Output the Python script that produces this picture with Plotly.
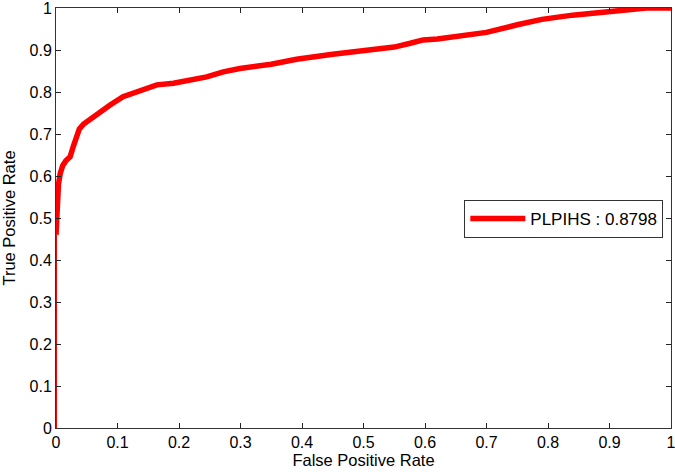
import plotly.graph_objects as go

# ROC curve points
fpr = [0, 0, 0.001, 0.002, 0.004, 0.007, 0.011, 0.016, 0.023, 0.028, 0.033, 0.038,
       0.045, 0.055, 0.069, 0.088, 0.109, 0.137, 0.164, 0.191, 0.218, 0.245, 0.272,
       0.299, 0.35, 0.391, 0.45, 0.5, 0.55, 0.576, 0.597, 0.62, 0.65, 0.70, 0.75,
       0.79, 0.84, 0.895, 0.93, 0.96, 1.0]
tpr = [0, 0.46, 0.50, 0.55, 0.58, 0.607, 0.625, 0.636, 0.646, 0.670, 0.694, 0.712,
       0.724, 0.735, 0.749, 0.769, 0.789, 0.805, 0.817, 0.821, 0.829, 0.836, 0.848,
       0.856, 0.866, 0.878, 0.89, 0.900, 0.907, 0.916, 0.924, 0.926, 0.932, 0.942,
       0.960, 0.973, 0.983, 0.991, 0.998, 1.0, 1.0]
ticks = [0, 0.1, 0.2, 0.3, 0.4, 0.5, 0.6, 0.7, 0.8, 0.9, 1]
tick_text = ["0", "0.1", "0.2", "0.3", "0.4", "0.5", "0.6", "0.7", "0.8", "0.9", "1"]
label = "PLPIHS : 0.8798"

red = "rgb(255,0,0)"
font = "Liberation Sans, Arial, sans-serif"

fig = go.Figure()
# thin jump at the start (no samples there)
fig.add_trace(go.Scatter(x=fpr[:2], y=tpr[:2], mode="lines",
                         line=dict(color=red, width=2), showlegend=False))
# thick part where the samples are dense
fig.add_trace(go.Scatter(x=fpr[1:], y=tpr[1:], mode="lines", name=label,
                         line=dict(color=red, width=5.5)))

axis = dict(range=[0, 1], tickvals=ticks, ticktext=tick_text,
            ticks="inside", ticklen=5, tickcolor="#222",
            showline=True, linecolor="#333", linewidth=1, mirror="allticks",
            showgrid=False, zeroline=False, automargin=False,
            ticklabeloverflow="allow",
            tickfont=dict(size=16, color="black"))

fig.update_layout(
    width=675, height=472,
    margin=dict(l=56, r=4, t=8, b=44),
    paper_bgcolor="white", plot_bgcolor="white",
    font=dict(family=font, color="black"),
    xaxis=dict(axis, title=dict(text="False Positive Rate", font=dict(size=16.5), standoff=2)),
    yaxis=dict(axis, title=dict(text="True Positive Rate", font=dict(size=16.5), standoff=11)),
    legend=dict(x=0.9875, xanchor="right", y=0.543, yanchor="top",
                bordercolor="#333", borderwidth=1, bgcolor="white",
                itemwidth=55, font=dict(size=17)),
)

# drop the default 8px body margin so the figure sits at the window's corner
fig.write_html("out.html", config={"displayModeBar": False},
               post_script="document.body.style.margin='0';")
